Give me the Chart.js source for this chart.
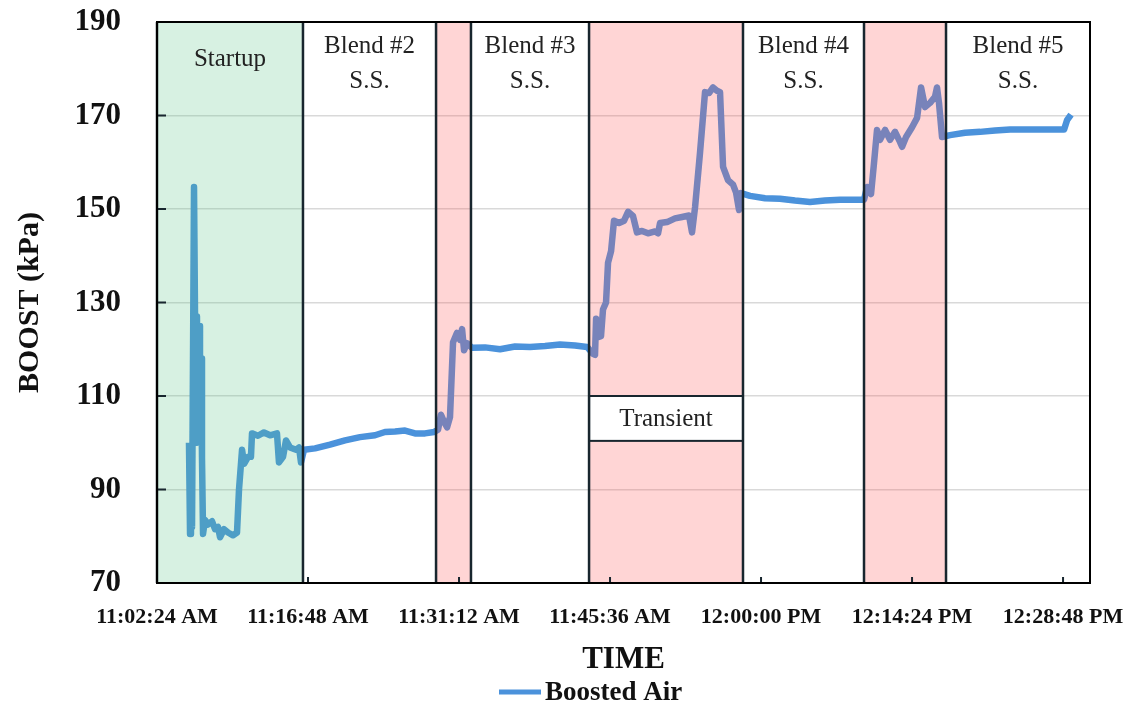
<!DOCTYPE html>
<html lang="en">
<head>
<meta charset="UTF-8" />
<title>Boost Pressure by Blend</title>
<script src="https://cdn.jsdelivr.net/npm/chart.js"></script>
<style>
  html, body { margin: 0; padding: 0; background: #fff; }
</style>
</head>
<body>
<canvas id="boostChart" width="1126" height="708"></canvas>
<script>
// time in minutes after 11:00:00, boost in kPa
const timeMin = [
  5.45, 5.55, 5.64, 5.74, 5.93, 6.12, 6.21, 6.31, 6.41, 6.50, 6.60, 6.69, 6.79,
  6.98, 7.26, 7.65, 7.93, 8.22, 8.41, 8.79, 9.17, 9.65, 10.03, 10.22, 10.51, 10.70,
  11.08, 11.36, 11.46, 12.03, 12.60, 13.18, 13.84, 14.03, 14.42, 14.70, 15.08, 15.66,
  15.94, 16.13, 16.42, 17.47, 18.90, 20.33, 21.76, 23.19, 24.14, 25.10, 26.05, 27.00,
  27.96, 28.82, 29.20, 29.48, 29.77, 30.06, 30.34, 30.63, 31.01, 31.30, 31.49, 31.68,
  31.96, 32.44, 33.68, 35.11, 36.54, 37.97, 39.40, 40.83, 42.26, 43.41, 43.98, 44.17,
  44.27, 44.46, 44.74, 44.93, 45.22, 45.41, 45.70, 45.98, 46.46, 46.94, 47.32, 47.79,
  48.17, 48.65, 49.22, 49.89, 50.18, 50.37, 51.04, 51.80, 52.47, 53.13, 53.42, 53.71,
  54.18, 54.66, 55.04, 55.42, 55.80, 56.09, 56.38, 56.85, 57.33, 57.62, 57.90, 58.09,
  58.95, 60.38, 61.81, 63.24, 64.67, 66.10, 67.53, 68.96, 69.82, 70.11, 70.49, 70.78,
  71.06, 71.35, 71.83, 72.30, 72.78, 73.26, 73.45, 73.83, 74.40, 74.88, 75.26, 75.64,
  76.12, 76.59, 76.78, 76.97, 77.26, 78.02, 79.45, 80.89, 82.32, 83.75, 85.18, 86.61,
  88.04, 88.90, 89.18, 89.56
];
const boost = [
  100, 80.5, 99, 82, 154.7, 100, 127, 103, 125, 100, 118, 97, 80.5,
  83.5, 82.5, 83.2, 81.5, 82, 79.8, 81.5, 80.8, 80.2, 80.8, 90, 98.5, 95.5,
  97, 97, 102, 101.5, 102.2, 101.6, 102, 95.8, 97, 100.5, 99, 98.5,
  99, 95.8, 98.5, 98.8, 99.6, 100.5, 101.2, 101.6, 102.3, 102.4, 102.6, 102,
  102, 102.3, 102.8, 106, 104.5, 103.3, 105.5, 121.5, 123.5, 122, 124.3, 119.8,
  121.3, 120.3, 120.4, 120, 120.6, 120.5, 120.7, 121, 120.8, 120.5, 119, 118.8,
  126.5, 122.6, 122.8, 128.5, 130, 138.5, 141, 147.5, 147, 147.5, 149.4, 148.5,
  145, 145.3, 144.8, 145.2, 144.8, 147, 147.2, 148, 148.3, 148.6, 145, 150.4,
  162, 175, 174.8, 176, 175.3, 175, 159, 156.2, 155.2, 153.5, 149.8, 153.4,
  152.8, 152.3, 152.2, 151.8, 151.5, 151.8, 152, 152, 152, 154.7, 153.2, 160,
  166.9, 164.8, 166.9, 164.8, 166.5, 164.3, 163.3, 165.4, 167.5, 169.5, 176, 171.8,
  172.7, 174, 176, 172.7, 165.4, 165.8, 166.3, 166.5, 166.8, 167, 167, 167,
  167, 167, 169, 170.2
];

const yTicks = [70, 90, 110, 130, 150, 170, 190];
const xTicks = [2.4, 16.8, 31.2, 45.6, 60.0, 74.4, 88.8];
const xMin = 2.4, xMax = 91.37;

// test phases along the time axis
const phaseStart = [2.4, 16.32, 29.01, 32.34, 43.60, 58.28, 69.82, 77.64];
const phaseEnd = [16.32, 29.01, 32.34, 43.60, 58.28, 69.82, 77.64, 91.37];
const phaseKind = ['startup', 'steady', 'change', 'steady', 'change', 'steady', 'change', 'steady'];
const phaseTitle = [['Startup'], ['Blend #2', 'S.S.'], [], ['Blend #3', 'S.S.'], [], ['Blend #4', 'S.S.'], [], ['Blend #5', 'S.S.']];

const SERIF = "'Liberation Serif', 'Times New Roman', serif";
const LINE_BLUE = '#4b92db';
const EDGE = '#18262e';
const FILL = { startup: 'rgba(88,196,132,0.24)', change: 'rgba(255,88,88,0.25)' };

function pad(n) { return String(n).padStart(2, '0'); }

function clockLabel(m) {
  const total = Math.round(m * 60) + 11 * 3600;
  const h = Math.floor(total / 3600);
  const mm = Math.floor((total % 3600) / 60);
  const ss = total % 60;
  const h12 = h > 12 ? h - 12 : h;
  return h12 + ':' + pad(mm) + ':' + pad(ss) + ' ' + (h >= 12 ? 'PM' : 'AM');
}

// shaded phase boxes, borders and labels drawn over the trace
const phasePlugin = {
  id: 'phases',
  afterDatasetsDraw(chart) {
    const { ctx, chartArea: a, scales: { x, y } } = chart;
    ctx.save();

    phaseStart.forEach((s, i) => {
      const fill = FILL[phaseKind[i]];
      if (!fill) return;
      const x0 = x.getPixelForValue(s), x1 = x.getPixelForValue(phaseEnd[i]);
      ctx.fillStyle = fill;
      ctx.fillRect(x0, a.top, x1 - x0, a.bottom - a.top);
    });

    // label box inside the long transient
    const tx0 = x.getPixelForValue(phaseStart[4]), tx1 = x.getPixelForValue(phaseEnd[4]);
    const ty0 = y.getPixelForValue(110), ty1 = y.getPixelForValue(100.4);
    ctx.fillStyle = '#fff';
    ctx.fillRect(tx0, ty0, tx1 - tx0, ty1 - ty0);
    ctx.strokeStyle = EDGE;
    ctx.lineWidth = 2;
    ctx.strokeRect(tx0, ty0, tx1 - tx0, ty1 - ty0);

    // inward tick marks
    ctx.beginPath();
    yTicks.forEach(v => {
      const py = y.getPixelForValue(v);
      ctx.moveTo(a.left, py);
      ctx.lineTo(a.left + 9, py);
    });
    xTicks.forEach(v => {
      const px = x.getPixelForValue(v);
      ctx.moveTo(px, a.bottom);
      ctx.lineTo(px, a.bottom - 6);
    });
    ctx.stroke();

    // phase edges and the plot frame
    ctx.lineWidth = 2.5;
    ctx.beginPath();
    phaseStart.forEach(s => {
      const px = x.getPixelForValue(s);
      ctx.moveTo(px, a.top);
      ctx.lineTo(px, a.bottom);
    });
    ctx.stroke();
    ctx.strokeStyle = '#000';
    ctx.lineWidth = 2;
    ctx.strokeRect(a.left, a.top, a.right - a.left, a.bottom - a.top);

    ctx.fillStyle = '#222';
    ctx.textAlign = 'center';
    ctx.textBaseline = 'middle';
    ctx.font = '25px ' + SERIF;
    phaseTitle.forEach((lines, i) => {
      const cx = (x.getPixelForValue(phaseStart[i]) + x.getPixelForValue(phaseEnd[i])) / 2;
      if (lines.length === 1) {
        ctx.fillText(lines[0], cx, a.top + 37);
      } else {
        lines.forEach((t, k) => ctx.fillText(t, cx, a.top + 24 + k * 35));
      }
    });
    ctx.fillText('Transient', (tx0 + tx1) / 2, (ty0 + ty1) / 2 + 1);

    ctx.restore();
  },
  // series key under the axis title
  afterDraw(chart) {
    const { ctx } = chart;
    const ds = chart.data.datasets[0];
    ctx.save();
    ctx.strokeStyle = ds.borderColor;
    ctx.lineWidth = 5;
    ctx.beginPath();
    ctx.moveTo(499, 692);
    ctx.lineTo(541, 692);
    ctx.stroke();
    ctx.fillStyle = '#111';
    ctx.font = 'bold 27px ' + SERIF;
    ctx.textAlign = 'left';
    ctx.textBaseline = 'middle';
    ctx.fillText(ds.label, 545, 693);
    ctx.restore();
  }
};

new Chart(document.getElementById('boostChart'), {
  type: 'line',
  data: {
    datasets: [{
      label: 'Boosted Air',
      data: timeMin.map((t, i) => ({ x: t, y: boost[i] })),
      borderColor: LINE_BLUE,
      backgroundColor: LINE_BLUE,
      borderWidth: 6.5,
      borderJoinStyle: 'round',
      borderCapStyle: 'butt',
      pointRadius: 0,
      tension: 0
    }]
  },
  options: {
    responsive: false,
    animation: false,
    layout: { padding: { left: 8, right: 36, top: 22, bottom: 0 } },
    plugins: {
      legend: { display: false },
      tooltip: { enabled: false }
    },
    scales: {
      x: {
        type: 'linear',
        min: xMin,
        max: xMax,
        afterBuildTicks: axis => { axis.ticks = xTicks.map(v => ({ value: v })); },
        afterFit: axis => {
          axis.height = 125;
          axis.paddingLeft = 0;
          axis.paddingRight = 0;
        },
        grid: { display: false, drawTicks: false },
        border: { display: false },
        ticks: {
          autoSkip: false,
          maxRotation: 0,
          padding: 21,
          color: '#111',
          font: { family: SERIF, size: 22, weight: 'bold' },
          callback: v => clockLabel(v)
        },
        title: {
          display: true,
          text: 'TIME',
          color: '#111',
          padding: { top: 0, bottom: 29 },
          font: { family: SERIF, size: 31, weight: 'bold' }
        }
      },
      y: {
        min: 70,
        max: 190,
        afterBuildTicks: axis => { axis.ticks = yTicks.map(v => ({ value: v })); },
        afterFit: axis => {
          axis.width = 149;
          axis.paddingTop = 0;
          axis.paddingBottom = 0;
        },
        grid: { color: '#d9d9d9', lineWidth: 1.5, drawTicks: false },
        border: { display: false },
        ticks: {
          padding: 36,
          color: '#111',
          font: { family: SERIF, size: 31, weight: 'bold' }
        },
        title: {
          display: true,
          text: 'BOOST (kPa)',
          color: '#111',
          padding: { top: 4, bottom: 0 },
          font: { family: SERIF, size: 30, weight: 'bold' }
        }
      }
    }
  },
  plugins: [phasePlugin]
});
</script>
</body>
</html>
